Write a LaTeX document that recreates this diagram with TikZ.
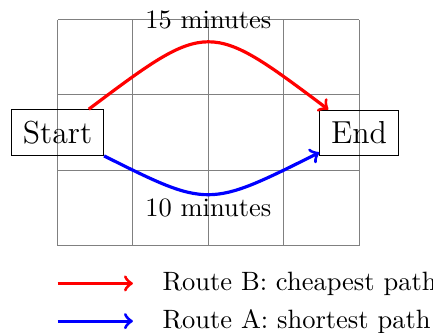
\documentclass[tikz,border=0pt]{standalone}
\usetikzlibrary{arrows}
\begin{document}
\begin{tikzpicture}[
  place/.style={draw, font=\large, inner sep=4.3pt},
  route/.style={->, very thick}
]
\useasboundingbox (-0.763,-1.145) rectangle (4.98,3.259);
\draw[gray] (0,0) grid (4,3);
\node[place] (start) at (0,1.5) {Start};
\node[place] (end) at (4,1.5) {End};
\draw[route, red] (start) .. controls (2,3) .. (end);
\draw[route, blue] (start) .. controls (2,0.5) .. (end);
\node (lb) at (2,3) {15 minutes};
\node (la) at (2,0.5) {10 minutes};
\coordinate (rb0) at (0,-0.5);
\coordinate (rb1) at (1,-0.5);
\coordinate (ra0) at (0,-1);
\coordinate (ra1) at (1,-1);
\draw[route, red] (rb0) -- (rb1);
\draw[route, blue] (ra0) -- (ra1);
\node[anchor=west] (tb) at (1.27,-0.5) {Route B: cheapest path};
\node[anchor=west] (ta) at (1.27,-1) {Route A: shortest path};
\end{tikzpicture}
\end{document}
